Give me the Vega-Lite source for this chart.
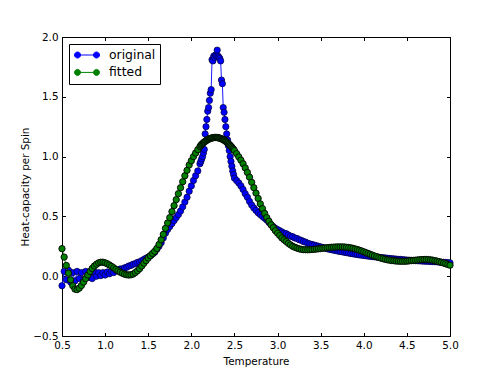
{
  "$schema": "https://vega.github.io/schema/vega-lite/v6.json",
  "width": 388,
  "height": 299,
  "autosize": {"type": "none"},
  "padding": {"left": 62, "top": 37, "right": 50, "bottom": 37},
  "background": "white",
  "data": {"values": [
    {"T":0.5,"original":-0.08,"fitted":0.23},
    {"T":0.525,"original":0.04,"fitted":0.16},
    {"T":0.55,"original":-0.03,"fitted":0.09},
    {"T":0.575,"original":0.05,"fitted":0.025},
    {"T":0.6,"original":-0.05,"fitted":-0.03},
    {"T":0.625,"original":0.03,"fitted":-0.08},
    {"T":0.65,"original":-0.04,"fitted":-0.108},
    {"T":0.675,"original":0.04,"fitted":-0.112},
    {"T":0.7,"original":-0.02,"fitted":-0.1},
    {"T":0.725,"original":0.03,"fitted":-0.078},
    {"T":0.75,"original":-0.03,"fitted":-0.05},
    {"T":0.775,"original":0.04,"fitted":-0.02},
    {"T":0.8,"original":-0.01,"fitted":0.01},
    {"T":0.825,"original":0.03,"fitted":0.04},
    {"T":0.85,"original":-0.02,"fitted":0.065},
    {"T":0.875,"original":0.035,"fitted":0.085},
    {"T":0.9,"original":0.0,"fitted":0.1},
    {"T":0.925,"original":0.03,"fitted":0.112},
    {"T":0.95,"original":0.005,"fitted":0.117},
    {"T":0.975,"original":0.03,"fitted":0.117},
    {"T":1.0,"original":0.01,"fitted":0.112},
    {"T":1.025,"original":0.035,"fitted":0.104},
    {"T":1.05,"original":0.02,"fitted":0.094},
    {"T":1.075,"original":0.04,"fitted":0.082},
    {"T":1.1,"original":0.03,"fitted":0.07},
    {"T":1.125,"original":0.05,"fitted":0.057},
    {"T":1.15,"original":0.045,"fitted":0.045},
    {"T":1.175,"original":0.06,"fitted":0.034},
    {"T":1.2,"original":0.06,"fitted":0.025},
    {"T":1.225,"original":0.07,"fitted":0.017},
    {"T":1.25,"original":0.075,"fitted":0.012},
    {"T":1.275,"original":0.085,"fitted":0.01},
    {"T":1.3,"original":0.09,"fitted":0.012},
    {"T":1.325,"original":0.1,"fitted":0.018},
    {"T":1.35,"original":0.105,"fitted":0.03},
    {"T":1.375,"original":0.115,"fitted":0.045},
    {"T":1.4,"original":0.12,"fitted":0.063},
    {"T":1.425,"original":0.13,"fitted":0.085},
    {"T":1.45,"original":0.14,"fitted":0.108},
    {"T":1.475,"original":0.15,"fitted":0.13},
    {"T":1.5,"original":0.16,"fitted":0.152},
    {"T":1.525,"original":0.17,"fitted":0.172},
    {"T":1.55,"original":0.185,"fitted":0.19},
    {"T":1.575,"original":0.2,"fitted":0.208},
    {"T":1.6,"original":0.225,"fitted":0.232},
    {"T":1.625,"original":0.25,"fitted":0.265},
    {"T":1.65,"original":0.28,"fitted":0.305},
    {"T":1.675,"original":0.32,"fitted":0.35},
    {"T":1.7,"original":0.36,"fitted":0.4},
    {"T":1.725,"original":0.39,"fitted":0.445},
    {"T":1.75,"original":0.415,"fitted":0.49},
    {"T":1.775,"original":0.44,"fitted":0.54},
    {"T":1.8,"original":0.465,"fitted":0.59},
    {"T":1.825,"original":0.49,"fitted":0.64},
    {"T":1.85,"original":0.515,"fitted":0.69},
    {"T":1.875,"original":0.545,"fitted":0.74},
    {"T":1.9,"original":0.58,"fitted":0.79},
    {"T":1.925,"original":0.62,"fitted":0.84},
    {"T":1.95,"original":0.66,"fitted":0.885},
    {"T":1.975,"original":0.71,"fitted":0.93},
    {"T":2.0,"original":0.755,"fitted":0.965},
    {"T":2.025,"original":0.8,"fitted":1.0},
    {"T":2.05,"original":0.84,"fitted":1.03},
    {"T":2.075,"original":0.88,"fitted":1.058},
    {"T":2.1,"original":0.94,"fitted":1.084},
    {"T":2.11,"original":0.96,"fitted":1.094},
    {"T":2.12,"original":0.98,"fitted":1.102},
    {"T":2.13,"original":1.0,"fitted":1.109},
    {"T":2.14,"original":1.03,"fitted":1.115},
    {"T":2.15,"original":1.06,"fitted":1.122},
    {"T":2.16,"original":1.19,"fitted":1.127},
    {"T":2.17,"original":1.25,"fitted":1.133},
    {"T":2.18,"original":1.31,"fitted":1.137},
    {"T":2.19,"original":1.38,"fitted":1.142},
    {"T":2.2,"original":1.41,"fitted":1.145},
    {"T":2.21,"original":1.47,"fitted":1.149},
    {"T":2.22,"original":1.53,"fitted":1.152},
    {"T":2.23,"original":1.56,"fitted":1.154},
    {"T":2.24,"original":1.81,"fitted":1.156},
    {"T":2.25,"original":1.8,"fitted":1.158},
    {"T":2.26,"original":1.84,"fitted":1.159},
    {"T":2.27,"original":1.83,"fitted":1.16},
    {"T":2.28,"original":1.85,"fitted":1.16},
    {"T":2.29,"original":1.84,"fitted":1.16},
    {"T":2.3,"original":1.89,"fitted":1.159},
    {"T":2.31,"original":1.84,"fitted":1.158},
    {"T":2.32,"original":1.83,"fitted":1.156},
    {"T":2.33,"original":1.82,"fitted":1.154},
    {"T":2.34,"original":1.8,"fitted":1.152},
    {"T":2.35,"original":1.64,"fitted":1.149},
    {"T":2.36,"original":1.61,"fitted":1.145},
    {"T":2.37,"original":1.41,"fitted":1.142},
    {"T":2.38,"original":1.37,"fitted":1.137},
    {"T":2.39,"original":1.31,"fitted":1.133},
    {"T":2.4,"original":1.25,"fitted":1.127},
    {"T":2.41,"original":1.19,"fitted":1.122},
    {"T":2.42,"original":1.14,"fitted":1.115},
    {"T":2.43,"original":1.09,"fitted":1.109},
    {"T":2.44,"original":1.05,"fitted":1.102},
    {"T":2.45,"original":1.0,"fitted":1.094},
    {"T":2.46,"original":0.96,"fitted":1.086},
    {"T":2.47,"original":0.92,"fitted":1.078},
    {"T":2.48,"original":0.88,"fitted":1.069},
    {"T":2.49,"original":0.85,"fitted":1.06},
    {"T":2.5,"original":0.82,"fitted":1.05},
    {"T":2.525,"original":0.8,"fitted":1.025},
    {"T":2.55,"original":0.78,"fitted":0.998},
    {"T":2.575,"original":0.755,"fitted":0.97},
    {"T":2.6,"original":0.725,"fitted":0.94},
    {"T":2.625,"original":0.69,"fitted":0.905},
    {"T":2.65,"original":0.66,"fitted":0.868},
    {"T":2.675,"original":0.625,"fitted":0.828},
    {"T":2.7,"original":0.595,"fitted":0.785},
    {"T":2.725,"original":0.57,"fitted":0.74},
    {"T":2.75,"original":0.55,"fitted":0.695},
    {"T":2.775,"original":0.53,"fitted":0.65},
    {"T":2.8,"original":0.515,"fitted":0.605},
    {"T":2.825,"original":0.5,"fitted":0.565},
    {"T":2.85,"original":0.485,"fitted":0.525},
    {"T":2.875,"original":0.47,"fitted":0.49},
    {"T":2.9,"original":0.45,"fitted":0.46},
    {"T":2.925,"original":0.43,"fitted":0.43},
    {"T":2.95,"original":0.415,"fitted":0.405},
    {"T":2.975,"original":0.4,"fitted":0.38},
    {"T":3.0,"original":0.39,"fitted":0.36},
    {"T":3.025,"original":0.38,"fitted":0.34},
    {"T":3.05,"original":0.37,"fitted":0.32},
    {"T":3.075,"original":0.36,"fitted":0.305},
    {"T":3.1,"original":0.355,"fitted":0.29},
    {"T":3.125,"original":0.345,"fitted":0.275},
    {"T":3.15,"original":0.335,"fitted":0.262},
    {"T":3.175,"original":0.33,"fitted":0.25},
    {"T":3.2,"original":0.32,"fitted":0.242},
    {"T":3.225,"original":0.315,"fitted":0.235},
    {"T":3.25,"original":0.305,"fitted":0.229},
    {"T":3.275,"original":0.3,"fitted":0.225},
    {"T":3.3,"original":0.29,"fitted":0.222},
    {"T":3.325,"original":0.285,"fitted":0.221},
    {"T":3.35,"original":0.275,"fitted":0.221},
    {"T":3.375,"original":0.27,"fitted":0.222},
    {"T":3.4,"original":0.265,"fitted":0.223},
    {"T":3.425,"original":0.26,"fitted":0.225},
    {"T":3.45,"original":0.255,"fitted":0.227},
    {"T":3.475,"original":0.25,"fitted":0.229},
    {"T":3.5,"original":0.245,"fitted":0.231},
    {"T":3.525,"original":0.24,"fitted":0.234},
    {"T":3.55,"original":0.235,"fitted":0.236},
    {"T":3.575,"original":0.23,"fitted":0.238},
    {"T":3.6,"original":0.225,"fitted":0.24},
    {"T":3.625,"original":0.222,"fitted":0.242},
    {"T":3.65,"original":0.218,"fitted":0.243},
    {"T":3.675,"original":0.215,"fitted":0.244},
    {"T":3.7,"original":0.21,"fitted":0.245},
    {"T":3.725,"original":0.207,"fitted":0.245},
    {"T":3.75,"original":0.204,"fitted":0.245},
    {"T":3.775,"original":0.2,"fitted":0.244},
    {"T":3.8,"original":0.197,"fitted":0.242},
    {"T":3.825,"original":0.194,"fitted":0.24},
    {"T":3.85,"original":0.19,"fitted":0.237},
    {"T":3.875,"original":0.187,"fitted":0.233},
    {"T":3.9,"original":0.184,"fitted":0.228},
    {"T":3.925,"original":0.181,"fitted":0.223},
    {"T":3.95,"original":0.178,"fitted":0.217},
    {"T":3.975,"original":0.176,"fitted":0.211},
    {"T":4.0,"original":0.173,"fitted":0.204},
    {"T":4.025,"original":0.171,"fitted":0.197},
    {"T":4.05,"original":0.168,"fitted":0.19},
    {"T":4.075,"original":0.166,"fitted":0.183},
    {"T":4.1,"original":0.164,"fitted":0.176},
    {"T":4.125,"original":0.162,"fitted":0.169},
    {"T":4.15,"original":0.16,"fitted":0.163},
    {"T":4.175,"original":0.158,"fitted":0.157},
    {"T":4.2,"original":0.156,"fitted":0.151},
    {"T":4.225,"original":0.154,"fitted":0.146},
    {"T":4.25,"original":0.152,"fitted":0.141},
    {"T":4.275,"original":0.15,"fitted":0.137},
    {"T":4.3,"original":0.148,"fitted":0.134},
    {"T":4.325,"original":0.146,"fitted":0.131},
    {"T":4.35,"original":0.145,"fitted":0.129},
    {"T":4.375,"original":0.143,"fitted":0.127},
    {"T":4.4,"original":0.141,"fitted":0.126},
    {"T":4.425,"original":0.14,"fitted":0.125},
    {"T":4.45,"original":0.138,"fitted":0.125},
    {"T":4.475,"original":0.137,"fitted":0.125},
    {"T":4.5,"original":0.135,"fitted":0.126},
    {"T":4.525,"original":0.134,"fitted":0.128},
    {"T":4.55,"original":0.133,"fitted":0.13},
    {"T":4.575,"original":0.131,"fitted":0.132},
    {"T":4.6,"original":0.13,"fitted":0.134},
    {"T":4.625,"original":0.129,"fitted":0.136},
    {"T":4.65,"original":0.128,"fitted":0.138},
    {"T":4.675,"original":0.127,"fitted":0.139},
    {"T":4.7,"original":0.126,"fitted":0.14},
    {"T":4.725,"original":0.125,"fitted":0.14},
    {"T":4.75,"original":0.124,"fitted":0.139},
    {"T":4.775,"original":0.123,"fitted":0.137},
    {"T":4.8,"original":0.122,"fitted":0.134},
    {"T":4.825,"original":0.121,"fitted":0.13},
    {"T":4.85,"original":0.12,"fitted":0.126},
    {"T":4.875,"original":0.118,"fitted":0.121},
    {"T":4.9,"original":0.117,"fitted":0.116},
    {"T":4.925,"original":0.116,"fitted":0.11},
    {"T":4.95,"original":0.115,"fitted":0.104},
    {"T":4.975,"original":0.113,"fitted":0.098},
    {"T":5.0,"original":0.112,"fitted":0.092}
  ]},
  "transform": [{"fold": ["original", "fitted"], "as": ["series", "C"]}],
  "layer": [
    {
      "transform": [{"filter": "datum.series === 'original'"}],
      "encoding": {
        "x": {"field": "T", "type": "quantitative",
              "scale": {"domain": [0.5, 5.0], "nice": false, "zero": false},
              "axis": {"values": [0.5,1,1.5,2,2.5,3,3.5,4,4.5,5], "format": ".1f", "title": "Temperature", "labelFlush": false, "labelOverlap": false, "titlePadding": 6}},
        "y": {"field": "C", "type": "quantitative",
              "scale": {"domain": [-0.5, 2.0], "nice": false, "zero": false},
              "axis": {"values": [-0.5,0,0.5,1,1.5,2], "format": ".1f", "title": "Heat-capacity per Spin", "labelOverlap": false, "titlePadding": 2}},
        "color": {"field": "series", "type": "nominal",
                  "scale": {"domain": ["original", "fitted"], "range": ["#0000ff", "#008000"]},
                  "legend": {"title": null, "orient": "top-left", "offset": 7, "padding": 4.5,
                             "strokeColor": "black", "fillColor": "white", "cornerRadius": 0,
                             "labelFontSize": 12.4, "labelColor": "black", "labelFont": "DejaVu Sans",
                             "symbolType": "M-0.91,0A0.5,0.5,0,1,1,0.09,0A0.5,0.5,0,1,1,-0.91,0ZM-0.41,0L2.75,0M2.25,0A0.5,0.5,0,1,1,3.25,0A0.5,0.5,0,1,1,2.25,0Z",
                             "symbolSize": 144, "rowPadding": 4.4, "labelOffset": 22.5, "symbolStrokeWidth": 1,
                             "symbolOpacity": 1}}
      },
      "layer": [
        {"mark": {"type": "line", "strokeWidth": 0.9}},
        {"mark": {"type": "point", "filled": true, "size": 40, "stroke": "#000033", "strokeWidth": 0.7, "opacity": 1}}
      ]
    },
    {
      "transform": [{"filter": "datum.series === 'fitted'"}],
      "encoding": {
        "x": {"field": "T", "type": "quantitative",
              "axis": {"orient": "top", "values": [0.5,1,1.5,2,2.5,3,3.5,4,4.5,5], "labels": false, "title": null}},
        "y": {"field": "C", "type": "quantitative",
              "axis": {"orient": "right", "values": [-0.5,0,0.5,1,1.5,2], "labels": false, "title": null}},
        "color": {"field": "series", "type": "nominal"}
      },
      "layer": [
        {"mark": {"type": "line", "strokeWidth": 0.9}},
        {"mark": {"type": "point", "filled": true, "size": 40, "stroke": "black", "strokeWidth": 0.9, "opacity": 1}}
      ]
    }
  ],
  "resolve": {"axis": {"x": "independent", "y": "independent"}},
  "config": {
    "font": "DejaVu Sans",
    "view": {"stroke": null},
    "axis": {"grid": false, "domainColor": "black", "domainWidth": 1, "tickColor": "black", "tickSize": -3.5, "tickWidth": 1,
             "labelPadding": 7.5, "labelFontSize": 10.4, "labelColor": "black", "labelFont": "DejaVu Sans",
             "titleFontSize": 10.4, "titleFontWeight": "normal", "titleColor": "black", "titleFont": "DejaVu Sans"}
  }
}
